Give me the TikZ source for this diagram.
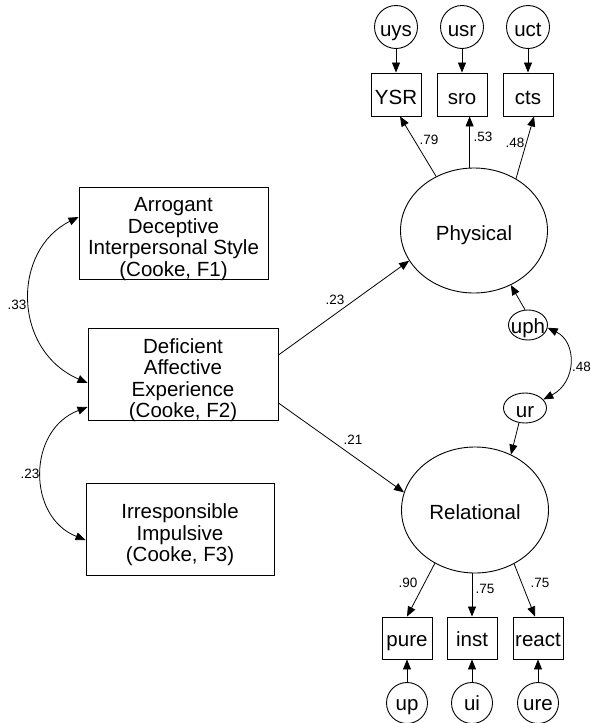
\documentclass[tikz,border=0pt]{standalone}
\usepackage{fontspec}
\setmainfont{Liberation Sans}
\usetikzlibrary{arrows.meta,shapes.geometric,calc}
\begin{document}
\begin{tikzpicture}[x=1pt,y=-1pt,
  every node/.style={font=\fontsize{20.5}{21.5}\selectfont, inner sep=0pt},
  box/.style={draw, line width=0.9pt, minimum width=50pt, minimum height=43pt, text height=21pt, text depth=1pt},
  bigbox/.style={draw, line width=0.9pt, minimum width=189pt, minimum height=92pt},
  boxtext/.style={align=center},
  err/.style={draw, circle, line width=0.9pt, minimum size=43pt, text height=20pt, text depth=2pt},
  latent/.style={draw, ellipse, line width=0.9pt, minimum width=147pt, minimum height=125pt, text height=19pt, text depth=0pt},
  smallell/.style={draw, ellipse, line width=0.9pt, minimum height=30pt, text height=17pt, text depth=0pt},
  arr/.style={-{Triangle[length=10pt,width=8pt]}, line width=0.8pt},
  dbl/.style={{Triangle[length=10pt,width=8pt]}-{Triangle[length=10pt,width=8pt]}, line width=0.8pt},
  lbl/.style={font=\fontsize{13.5}{13.5}\selectfont}
]
\useasboundingbox (0,0) rectangle (591,723);

% top error terms and indicators
\node[err] (uys) at (396,27) {uys};
\node[err] (usr) at (462,27) {usr};
\node[err] (uct) at (528,27) {uct};
\node[box] (YSR) at (396,94.5) {YSR};
\node[box] (sro) at (462,94.5) {sro};
\node[box] (cts) at (528,94.5) {cts};

% latent variables
\node[latent] (phys) at (474,230.5) {Physical};
\node[latent, minimum height=126pt, text height=18.5pt] (rel) at (475,510) {Relational};
\node[smallell, minimum width=39pt, text height=16pt] (uph) at (528,325) {\makebox[0pt]{uph}};
\node[smallell, minimum width=43pt, text height=18pt] (ur) at (525,408) {ur};

% bottom indicators and error terms
\node[box, minimum height=42pt, text height=18pt, text depth=2pt] (pure) at (407,638) {pure};
\node[box, minimum height=42pt, text height=18pt, text depth=2pt] (inst) at (472,638) {inst};
\node[box, minimum height=42pt, text height=18pt, text depth=2pt] (react) at (538,638) {react};
\node[err, minimum size=41pt, text height=16pt, text depth=2pt] (up) at (407,703) {up};
\node[err, minimum size=41pt, text height=16pt, text depth=2pt] (ui) at (472,703) {ui};
\node[err, minimum size=41pt, text height=16pt, text depth=2pt] (ure) at (538,703) {ure};

% left predictors
\node[bigbox] (F1) at (173.5,233) {};
\node[boxtext] (F1t) at ([yshift=-6pt]F1.center) {Arrogant\\Deceptive\\Interpersonal Style\\(Cooke, F1)};
\node[bigbox, minimum width=190pt] (F2) at (183,374) {};
\node[boxtext] (F2t) at ([yshift=-6pt]F2.center) {Deficient\\Affective\\Experience\\(Cooke, F2)};
\node[bigbox, minimum width=188pt] (F3) at (180,529) {};
\node[boxtext] (F3t) at ([yshift=-6pt]F3.center) {Irresponsible\\Impulsive\\(Cooke, F3)};

% arrows top
\draw[arr] (uys) -- (YSR);
\draw[arr] (usr) -- (sro);
\draw[arr] (uct) -- (cts);
\draw[arr] (phys.125) -- ([xshift=4pt]YSR.south);
\draw[arr] (phys.94) -- (phys.94 |- sro.south);
\draw[arr] (phys.51) -- ([xshift=6pt]cts.south);

% structural paths
\draw[arr] ([yshift=19pt]F2.east) -- (phys.205.5);
\draw[arr] ([yshift=-29pt]F2.east) -- (rel.166);

% disturbances
\draw[arr] (uph.101) -- (phys.-56);
\draw[arr] (ur.-112) -- (rel.57.7);
\draw[dbl] (uph.-8) .. controls (577,342) and (577,382) .. (ur.25);

% bottom arrows
\draw[arr] (rel.-127.7) -- (pure.north);
\draw[arr] (inst.north |- rel.south) -- (inst.north);
\draw[arr] (rel.-54.2) -- ([xshift=-3pt]react.north);
\draw[arr] (up) -- (pure);
\draw[arr] (ui) -- (inst);
\draw[arr] (ure) -- (react);

% correlations on the left
\draw[dbl] ([yshift=16pt]F1.west) .. controls (12,250) and (12,350) .. ([yshift=-9pt]F2.west);
\draw[dbl] ([yshift=-33pt]F2.west) .. controls (27,430) and (27,517) .. ([yshift=-11pt]F3.west);

% labels
\node[lbl] (l79) at (429,140) {.79};
\node[lbl] (l53) at (483,137) {.53};
\node[lbl] (l48a) at (515,143) {.48};
\node[lbl] (l23a) at (335,300) {.23};
\node[lbl] (l21) at (353,440) {.21};
\node[lbl] (l33) at (17,305) {.33};
\node[lbl] (l23b) at (30,474) {.23};
\node[lbl] (l48b) at (581.5,367) {.48};
\node[lbl] (l90) at (408,583) {.90};
\node[lbl] (l75a) at (485,589) {.75};
\node[lbl] (l75b) at (540,583) {.75};
\end{tikzpicture}
\end{document}
